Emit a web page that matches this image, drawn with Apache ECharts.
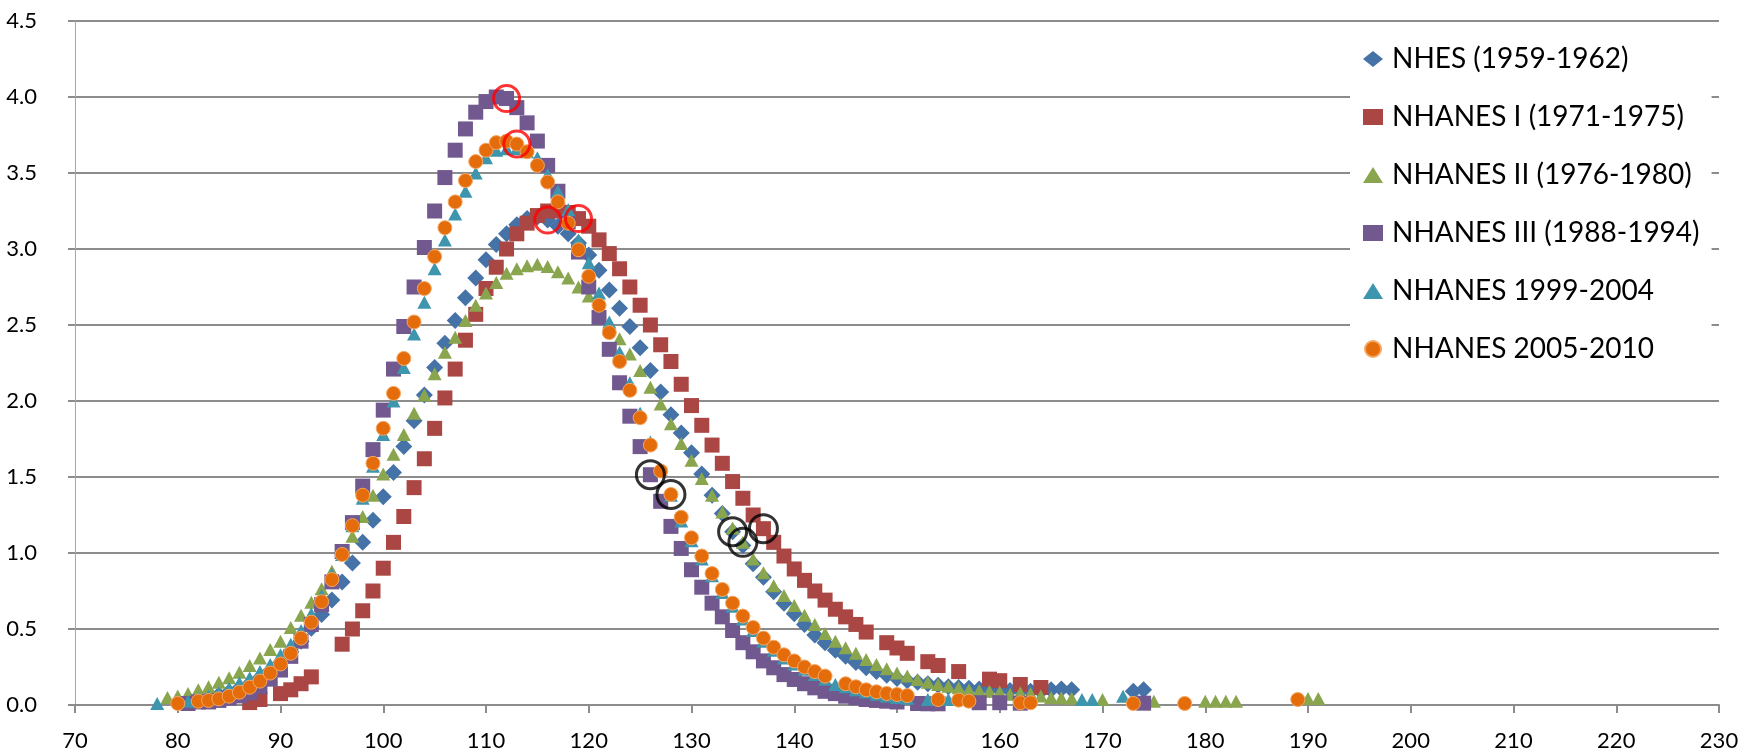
<!DOCTYPE html>
<html>
<head>
<meta charset="utf-8">
<script src="https://cdn.jsdelivr.net/npm/echarts@6/dist/echarts.min.js"></script>
<style>
  html, body { margin: 0; padding: 0; background: #fff; }
  #chart { width: 1743px; height: 752px; }
</style>
</head>
<body>
<div id="chart"></div>
<script>
// Axis ranges
const xMin = 70, xMax = 230, xStep = 10;
const yMin = 0, yMax = 4.5, yStep = 0.5;

// Series names
const seriesNames = [
  'NHES (1959-1962)',
  'NHANES I (1971-1975)',
  'NHANES II (1976-1980)',
  'NHANES III (1988-1994)',
  'NHANES 1999-2004',
  'NHANES 2005-2010'
];

// Percent of children at each value, one entry per unit starting at the given x (null = no value)
const nhesStart = 81;
const nhes = [
  0.03, 0.04, 0.05, 0.065, 0.085, 0.11, 0.14, 0.18, 0.225, 0.28,
  0.35, 0.42, 0.505, 0.595, 0.69, 0.81, 0.935, 1.07, 1.215, 1.37,
  1.53, 1.70, 1.87, 2.04, 2.22, 2.38, 2.53, 2.68, 2.81, 2.93,
  3.03, 3.10, 3.16, 3.20, 3.21, 3.19, 3.15, 3.10, 3.04, 2.96,
  2.86, 2.73, 2.61, 2.49, 2.35, 2.20, 2.06, 1.91, 1.79, 1.66,
  1.52, 1.38, 1.26, 1.14, 1.05, 0.93, 0.84, 0.745, 0.67, 0.60,
  0.53, 0.46, 0.41, 0.36, 0.32, 0.28, 0.245, 0.22, 0.195, 0.175,
  0.16, 0.15, 0.14, 0.13, 0.12, 0.115, 0.11, 0.105, 0.10, 0.10,
  0.095, 0.095, 0.09, 0.09, 0.10, 0.105, 0.10, null, null, null,
  null, null, 0.09, 0.10
];

const nhanes1Start = 87;
const nhanes1 = [
  0.016, 0.036, null, 0.075, 0.10, 0.14, 0.185, null, null, 0.40,
  0.50, 0.62, 0.75, 0.90, 1.07, 1.24, 1.43, 1.62, 1.82, 2.02,
  2.21, 2.40, 2.57, 2.74, 2.88, 3.00, 3.10, 3.17, 3.22, 3.25,
  3.25, 3.24, 3.20, 3.15, 3.06, 2.97, 2.87, 2.75, 2.63, 2.50,
  2.37, 2.26, 2.11, 1.97, 1.84, 1.71, 1.59, 1.47, 1.36, 1.25,
  1.16, 1.07, 0.98, 0.895, 0.82, 0.75, 0.69, 0.63, 0.58, 0.53,
  0.48, null, 0.41, 0.375, 0.34, null, 0.285, 0.26, null, 0.22,
  null, null, 0.17, 0.16, null, 0.135, null, 0.115
];

const nhanes2Start = 79;
const nhanes2 = [
  0.05, 0.06, 0.075, 0.10, 0.12, 0.15, 0.18, 0.215, 0.26, 0.31,
  0.365, 0.42, 0.51, 0.59, 0.676, 0.764, 0.88, 0.99, 1.11, 1.24,
  1.38, 1.52, 1.65, 1.78, 1.92, 2.04, 2.18, 2.32, 2.42, 2.53,
  2.63, 2.71, 2.78, 2.84, 2.87, 2.89, 2.90, 2.885, 2.85, 2.81,
  2.75, 2.69, 2.61, 2.51, 2.41, 2.31, 2.20, 2.09, 1.98, 1.85,
  1.72, 1.61, 1.49, 1.38, 1.27, 1.165, 1.07, 0.96, 0.87, 0.785,
  0.72, 0.655, 0.59, 0.53, 0.47, 0.42, 0.376, 0.34, 0.30, 0.266,
  0.238, 0.21, 0.19, 0.168, 0.15, 0.135, 0.124, 0.113, 0.10, 0.095,
  0.09, 0.085, 0.07, 0.08, 0.076, 0.06, 0.05, 0.047, 0.045, null,
  null, 0.036, null, null, null, null, 0.025, null, null, null,
  null, 0.025, 0.025, 0.025, 0.025, null, null, null, null, null,
  null, 0.043, 0.043
];

const nhanes3Start = 81;
const nhanes3 = [
  0.01, 0.02, 0.02, 0.03, 0.045, 0.06, 0.08, 0.12, 0.17, 0.23,
  0.32, 0.42, 0.53, 0.66, 0.81, 1.01, 1.20, 1.44, 1.68, 1.94,
  2.21, 2.49, 2.75, 3.01, 3.25, 3.47, 3.65, 3.79, 3.90, 3.97,
  4.00, 3.99, 3.93, 3.83, 3.71, 3.55, 3.38, 3.18, 2.98, 2.75,
  2.55, 2.34, 2.12, 1.90, 1.70, 1.515, 1.34, 1.175, 1.03, 0.89,
  0.775, 0.67, 0.58, 0.49, 0.41, 0.35, 0.29, 0.245, 0.20, 0.168,
  0.14, 0.113, 0.09, 0.075, 0.058, 0.047, 0.036, 0.03, 0.025, 0.02,
  null, 0.01, 0.008, 0.008, null, null, null, 0.015, null, 0.015,
  null, 0.012, null, null, null, null, null, null, null, null,
  null, null, null, 0.012
];

const nhanes9904Start = 78;
const nhanes9904 = [
  0.01, null, null, 0.025, 0.04, 0.058, 0.08, 0.11, 0.146, 0.18,
  0.22, 0.266, 0.33, 0.40, 0.49, 0.60, 0.72, 0.86, 0.99, 1.18,
  1.36, 1.57, 1.78, 2.00, 2.22, 2.44, 2.65, 2.87, 3.06, 3.23,
  3.38, 3.50, 3.60, 3.65, 3.66, 3.66, 3.64, 3.60, 3.49, 3.38,
  3.26, 3.06, 2.91, 2.71, 2.52, 2.32, 2.12, 1.92, 1.73, 1.55,
  1.38, 1.21, 1.08, 0.96, 0.85, 0.74, 0.65, 0.565, 0.49, 0.42,
  0.36, 0.31, 0.27, 0.235, 0.20, 0.17, 0.135, 0.12, 0.10, 0.085,
  0.07, 0.06, 0.05, 0.045, null, 0.036, null, 0.036, null, null,
  null, null, null, null, null, null, null, null, null, null,
  0.036, 0.036, null, null, 0.058
];

const nhanes0510Start = 80;
const nhanes0510 = [
  0.01, null, 0.025, 0.03, 0.04, 0.058, 0.084, 0.117, 0.157, 0.21,
  0.27, 0.34, 0.44, 0.545, 0.68, 0.825, 0.99, 1.18, 1.38, 1.59,
  1.82, 2.05, 2.28, 2.52, 2.74, 2.95, 3.14, 3.31, 3.45, 3.575,
  3.65, 3.70, 3.71, 3.69, 3.64, 3.55, 3.44, 3.31, 3.17, 2.995,
  2.82, 2.63, 2.45, 2.26, 2.07, 1.89, 1.71, 1.54, 1.385, 1.235,
  1.10, 0.98, 0.865, 0.76, 0.67, 0.585, 0.51, 0.44, 0.38, 0.33,
  0.29, 0.25, 0.22, 0.19, null, 0.14, 0.12, 0.10, 0.087, 0.076,
  0.069, 0.062, null, null, 0.036, null, 0.032, 0.025, null, null,
  null, null, 0.015, 0.015, null, null, null, null, null, null,
  null, null, null, 0.01, null, null, null, null, 0.01, null,
  null, null, null, null, null, null, null, null, null, 0.036
];

// Highlighted points: [series name, x]
const redRings = [
  ['NHANES III (1988-1994)', 112],
  ['NHANES 2005-2010', 113],
  ['NHES (1959-1962)', 116],
  ['NHANES I (1971-1975)', 119]
];
const blackRings = [
  ['NHANES III (1988-1994)', 126],
  ['NHANES 2005-2010', 128],
  ['NHES (1959-1962)', 134],
  ['NHANES II (1976-1980)', 135],
  ['NHANES I (1971-1975)', 137]
];

const sources = {
  'NHES (1959-1962)': [nhesStart, nhes],
  'NHANES I (1971-1975)': [nhanes1Start, nhanes1],
  'NHANES II (1976-1980)': [nhanes2Start, nhanes2],
  'NHANES III (1988-1994)': [nhanes3Start, nhanes3],
  'NHANES 1999-2004': [nhanes9904Start, nhanes9904],
  'NHANES 2005-2010': [nhanes0510Start, nhanes0510]
};

function toPoints(start, values) {
  const pts = [];
  values.forEach((v, i) => { if (v !== null) pts.push([start + i, v]); });
  return pts;
}
function ringPoints(list) {
  return list.map(([name, x]) => {
    const [start, values] = sources[name];
    return [x, values[x - start]];
  });
}

const styles = {
  'NHES (1959-1962)':       { symbol: 'diamond',  size: [17, 17], color: '#4572A7' },
  'NHANES I (1971-1975)':   { symbol: 'rect',     size: [15, 15], color: '#AA4643' },
  'NHANES II (1976-1980)':  { symbol: 'triangle', size: [14, 13], color: '#89A54E' },
  'NHANES III (1988-1994)': { symbol: 'rect',     size: [15, 15], color: '#71588F' },
  'NHANES 1999-2004':       { symbol: 'triangle', size: [14, 13], color: '#3D96AE' },
  'NHANES 2005-2010':       { symbol: 'circle',   size: [14, 14], color: '#E46C0A',
                              border: '#F5A762' }
};

const FONT = 'Lato';

const series = seriesNames.map(name => {
  const st = styles[name];
  const [start, values] = sources[name];
  return {
    name: name,
    type: 'scatter',
    symbol: st.symbol,
    symbolSize: st.size,
    itemStyle: {
      color: st.color,
      opacity: 1,
      borderColor: st.border || st.color,
      borderWidth: st.border ? 1 : 0
    },
    emphasis: { disabled: true },
    data: toPoints(start, values)
  };
});

series.push({
  name: 'redRings',
  type: 'scatter',
  symbol: 'circle',
  symbolSize: 26,
  itemStyle: { color: 'rgba(0,0,0,0)', borderColor: '#FF0000', borderWidth: 3 },
  emphasis: { disabled: true },
  z: 5,
  data: ringPoints(redRings)
});
series.push({
  name: 'blackRings',
  type: 'scatter',
  symbol: 'circle',
  symbolSize: 28,
  itemStyle: { color: 'rgba(0,0,0,0)', borderColor: '#000000', borderWidth: 3 },
  emphasis: { disabled: true },
  z: 5,
  data: ringPoints(blackRings)
});

const chart = echarts.init(document.getElementById('chart'), null, { renderer: 'canvas' });
chart.setOption({
  animation: false,
  backgroundColor: '#ffffff',
  grid: { left: 75, right: 24, top: 21, bottom: 47, containLabel: false },
  xAxis: {
    type: 'value',
    min: xMin, max: xMax, interval: xStep,
    axisLine: { show: true, onZero: false, lineStyle: { color: '#8C8C8C', width: 2 } },
    axisTick: { show: true, length: 8, lineStyle: { color: '#8C8C8C', width: 2 } },
    splitLine: { show: false },
    axisLabel: { color: '#000', fontFamily: FONT, fontSize: 22, margin: 25 }
  },
  yAxis: {
    type: 'value',
    min: yMin, max: yMax, interval: yStep,
    axisLine: { show: true, lineStyle: { color: '#A6A6A6', width: 1 } },
    axisTick: { show: true, length: 7, lineStyle: { color: '#8C8C8C', width: 2 } },
    splitLine: { show: true, lineStyle: { color: '#8C8C8C', width: 2 } },
    axisLabel: {
      color: '#000', fontFamily: FONT, fontSize: 22, margin: 38,
      formatter: v => v.toFixed(1)
    }
  },
  legend: {
    orient: 'vertical',
    left: 1350,
    top: 30,
    backgroundColor: '#ffffff',
    padding: [14, 12, 14, 13],
    itemGap: 28,
    itemWidth: 20,
    itemHeight: 16,
    selectedMode: false,
    textStyle: { color: '#000', fontFamily: FONT, fontSize: 28, lineHeight: 30, padding: [0, 0, 0, 4] },
    data: seriesNames.map(n => ({ name: n, icon: styles[n].symbol }))
  },
  series: series
});
</script>
</body>
</html>
